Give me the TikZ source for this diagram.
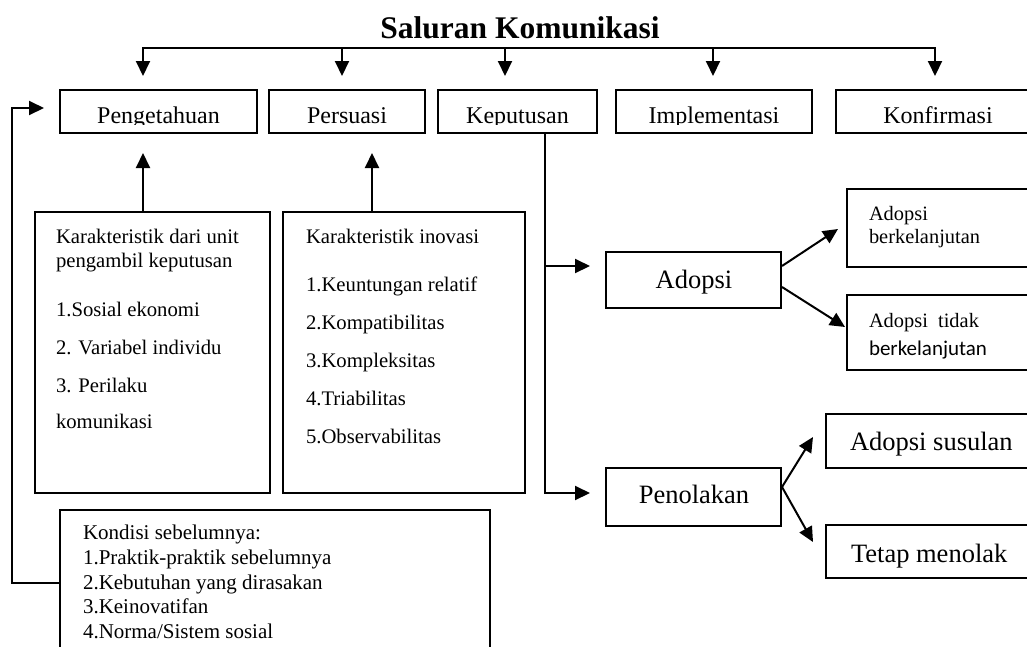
\documentclass[tikz,border=0pt]{standalone}
\usepackage{fontspec}
\setmainfont{Liberation Serif}
\newfontfamily\carlito{Carlito}
\usetikzlibrary{arrows.meta,fit}
\begin{document}
\begin{tikzpicture}[x=1pt,y=-1pt,line width=2pt,
  frame/.style={draw,line width=2pt,inner sep=0pt},
  arr/.style={-{Triangle[length=15pt,width=14pt]}},
  lbl/.style={inner sep=0pt,anchor=base},
  ln/.style={inner sep=0pt,anchor=base west},
  toplbl/.style={lbl,font=\fontsize{24}{28}\selectfont},
  bodytxt/.style={ln,font=\fontsize{20.7}{24}\selectfont},
  kondtxt/.style={ln,font=\fontsize{21}{24}\selectfont},
  bigtxt/.style={font=\fontsize{26.5}{30}\selectfont}]
\clip (0,0) rectangle (1027,646);

% title
\node[lbl,font=\fontsize{31.5}{36}\selectfont\bfseries] (title) at (520,38) {Saluran Komunikasi};

% top boxes
\node[frame,fit={(60,90)(257,133)}] (peng) {};
\node[frame,fit={(269,90)(425,133)}] (pers) {};
\node[frame,fit={(438,90)(597,133)}] (kep) {};
\node[frame,fit={(616,90)(812,133)}] (impl) {};
\node[frame,fit={(836,90)(1045,133)}] (konf) {};

\begin{scope}
\clip (0,90) rectangle (1027,124.8);
\node[toplbl] (pengt) at (158.5,123) {Pengetahuan};
\node[toplbl] (perst) at (347,123) {Persuasi};
\node[toplbl] (kept) at (517.5,123) {Keputusan};
\node[toplbl] (implt) at (714,123) {Implementasi};
\node[toplbl] (konft) at (938,123) {Konfirmasi};
\end{scope}

% communication bus
\coordinate (b1) at (143,48);
\coordinate (b2) at (342,48);
\coordinate (b3) at (505,48);
\coordinate (b4) at (713,48);
\coordinate (b5) at (935,48);
\coordinate (e1) at (143,76);
\coordinate (e5) at (935,76);
\draw[{Triangle[length=15pt,width=14pt]}-{Triangle[length=15pt,width=14pt]}]
  (e1) -- (b1) -- (b5) -- (e5);
\draw[arr] (b2) -- ++(0,28);
\draw[arr] (b3) -- ++(0,28);
\draw[arr] (b4) -- ++(0,28);

% characteristic boxes
\node[frame,fit={(35,212)(270,493)}] (unit) {};
\node[frame,fit={(283,212)(525,493)}] (inov) {};
\coordinate (u1) at (143,153);
\coordinate (u2) at (372,153);
\draw[arr] (unit.north -| u1) -- (u1);
\draw[arr] (inov.north -| u2) -- (u2);

\node[bodytxt] (t11) at (55,243) {Karakteristik dari unit};
\node[bodytxt] (t12) at (55,267) {pengambil keputusan};
\node[bodytxt] (t13) at (55,316) {1.Sosial ekonomi};
\node[bodytxt] (t14) at (55,354) {2. Variabel individu};
\node[bodytxt] (t15) at (55,392) {3. Perilaku};
\node[bodytxt] (t16) at (55,428) {komunikasi};

\node[bodytxt] (t21) at (305,243) {Karakteristik inovasi};
\node[bodytxt] (t22) at (305,291) {1.Keuntungan relatif};
\node[bodytxt] (t23) at (305,329) {2.Kompatibilitas};
\node[bodytxt] (t24) at (305,367) {3.Kompleksitas};
\node[bodytxt] (t25) at (305,405) {4.Triabilitas};
\node[bodytxt] (t26) at (305,443) {5.Observabilitas};

% decision branches
\node[frame,fit={(606,252)(781,308)}] (adopsi) {};
\node[lbl,bigtxt] (adopsit) at (694,288) {Adopsi};
\node[frame,fit={(606,468)(781,526)}] (tolak) {};
\node[lbl,bigtxt] (tolakt) at (694,503) {Penolakan};

\coordinate (k1) at (545,266);
\coordinate (k2) at (545,493);
\coordinate (a1) at (590,266);
\coordinate (p1) at (590,493);
\draw[arr] (kep.south -| k1) -- (k2) -- (p1);
\draw[arr] (k1) -- (a1);

% adoption outcomes
\node[frame,fit={(847,189)(1045,267)}] (lanjut) {};
\node[ln,font=\fontsize{20.4}{24}\selectfont] (l1) at (868,220) {Adopsi};
\node[ln,font=\fontsize{20.4}{24}\selectfont] (l2) at (868,243) {berkelanjutan};
\node[frame,fit={(847,295)(1045,370)}] (tdk) {};
\node[ln,font=\fontsize{20.4}{24}\selectfont] (d1) at (868,327) {Adopsi\ \ tidak};
\node[ln,font=\carlito\fontsize{21}{24}\selectfont] (d2) at (868,355) {berkelanjutan};

\coordinate (c1) at (838,229);
\coordinate (c2) at (845,327);
\draw[arr] ([yshift=14pt]adopsi.east) -- (c1);
\draw[arr] ([yshift=-7pt]adopsi.east) -- (c2);

% rejection outcomes
\node[frame,fit={(826,414)(1045,468)}] (susul) {};
\node[ln,bigtxt] (s1) at (849,450) {Adopsi susulan};
\node[frame,fit={(826,525)(1045,578)}] (tetap) {};
\node[ln,bigtxt] (s2) at (850,562) {Tetap menolak};

\coordinate (c3) at (813,437);
\coordinate (c4) at (813,542);
\draw[arr] ([yshift=10pt]tolak.east) -- (c3);
\draw[arr] ([yshift=10pt]tolak.east) -- (c4);

% prior conditions
\node[frame,fit={(60,510)(490,660)}] (kond) {};
\node[kondtxt] (k01) at (82,539) {Kondisi sebelumnya:};
\node[kondtxt] (k02) at (82,564) {1.Praktik-praktik sebelumnya};
\node[kondtxt] (k03) at (82,589) {2.Kebutuhan yang dirasakan};
\node[kondtxt] (k04) at (82,613) {3.Keinovatifan};
\node[kondtxt] (k05) at (82,638) {4.Norma/Sistem sosial};

\coordinate (fb) at (44,108);
\draw[arr] ([yshift=2pt]kond.west) -- ++(-47,0) |- (fb);
\end{tikzpicture}
\end{document}
